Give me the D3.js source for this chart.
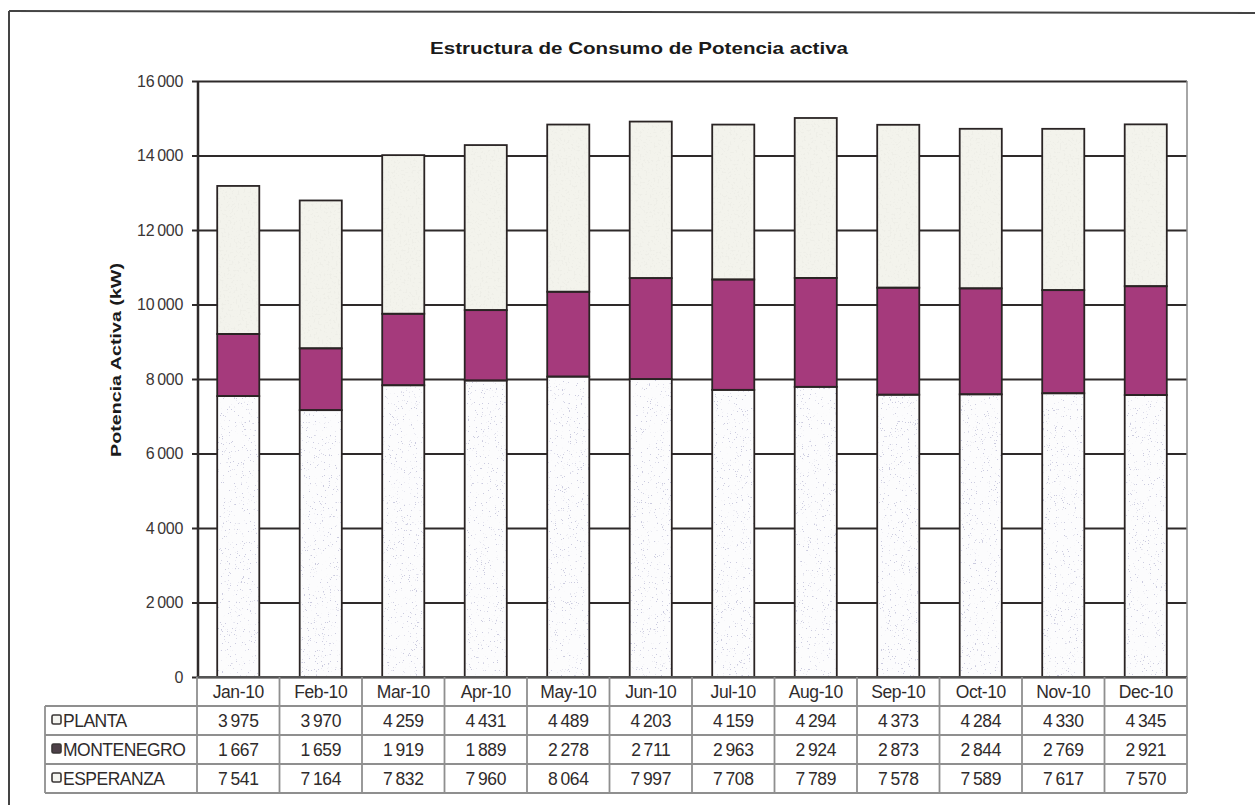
<!DOCTYPE html>
<html>
<head>
<meta charset="utf-8">
<script src="https://cdn.jsdelivr.net/npm/d3@7"></script>
<style>
  html, body { margin: 0; padding: 0; background: #fff; }
  svg { display: block; font-family: "Liberation Sans", Arial, sans-serif; }
</style>
</head>
<body>
<svg id="chart" width="1255" height="805"></svg>
<script>
// Monthly active power by supply point (kW)
const months = ["Jan-10","Feb-10","Mar-10","Apr-10","May-10","Jun-10","Jul-10","Aug-10","Sep-10","Oct-10","Nov-10","Dec-10"];
const planta      = [3975, 3970, 4259, 4431, 4489, 4203, 4159, 4294, 4373, 4284, 4330, 4345];
const montenegro  = [1667, 1659, 1919, 1889, 2278, 2711, 2963, 2924, 2873, 2844, 2769, 2921];
const esperanza   = [7541, 7164, 7832, 7960, 8064, 7997, 7708, 7789, 7578, 7589, 7617, 7570];
const seriesNames = ["PLANTA", "MONTENEGRO", "ESPERANZA"];
const yTicks = [0, 2000, 4000, 6000, 8000, 10000, 12000, 14000, 16000];

const svg = d3.select("#chart");
const plotL = 197, plotR = 1187, plotT = 81, plotB = 677;
const rowH = 29;

// Fill textures: sparse speckle for ESPERANZA, faint grain for PLANTA
const defs = svg.append("defs");
function noiseFilter(id, freq, seed, rgb, alphaRow) {
  const f = defs.append("filter").attr("id", id).attr("x", 0).attr("y", 0).attr("width", 1).attr("height", 1);
  f.append("feTurbulence").attr("type", "fractalNoise").attr("baseFrequency", freq).attr("numOctaves", 2).attr("seed", seed).attr("result", "noise");
  f.append("feColorMatrix").attr("in", "noise").attr("type", "matrix")
    .attr("values", `0 0 0 0 ${rgb[0]}  0 0 0 0 ${rgb[1]}  0 0 0 0 ${rgb[2]}  ${alphaRow}`).attr("result", "dots");
  f.append("feComposite").attr("in", "dots").attr("in2", "SourceGraphic").attr("operator", "in").attr("result", "dotsIn");
  const m = f.append("feMerge");
  m.append("feMergeNode").attr("in", "SourceGraphic");
  m.append("feMergeNode").attr("in", "dotsIn");
}
noiseFilter("speck", 0.85, 4, [0.6, 0.6, 0.74], "0 0 0 -16 5.0");
noiseFilter("grain", 0.5, 9, [0.86, 0.86, 0.8], "0 0 0 -10 4.2");

// Outer chart frame
svg.append("line").attr("x1", 9).attr("y1", 11).attr("x2", 1255).attr("y2", 13).attr("stroke", "#444").attr("stroke-width", 2);
svg.append("line").attr("x1", 9).attr("y1", 11).attr("x2", 9).attr("y2", 805).attr("stroke", "#444").attr("stroke-width", 2);

// Title
svg.append("text").attr("x", 639).attr("y", 54).attr("text-anchor", "middle")
  .attr("font-size", 17).attr("font-weight", "bold").attr("fill", "#1a1a1a")
  .attr("textLength", 418).attr("lengthAdjust", "spacingAndGlyphs")
  .text("Estructura de Consumo de Potencia activa");

const x = d3.scaleBand().domain(months).range([plotL, plotR]).paddingInner(0.49).paddingOuter(0.245);
const y = d3.scaleLinear().domain([0, 16000]).range([plotB, plotT]);
const fmt = v => d3.format(",")(v).replace(/,/g, "\u2009");

// Gridlines and y axis
const yAxis = d3.axisLeft(y).tickValues(yTicks).tickFormat(fmt).tickSize(-(plotR - plotL)).tickPadding(14);
const gy = svg.append("g").attr("transform", `translate(${plotL},0)`).call(yAxis);
gy.select(".domain").remove();
gy.selectAll(".tick line").attr("stroke", "#2e2a2a").attr("stroke-width", 2).attr("x1", -5);
gy.selectAll(".tick text").attr("font-size", 16).attr("fill", "#3a3636")
  .attr("font-family", "Liberation Sans, Arial, sans-serif").attr("letter-spacing", -0.3);

// Plot frame: axis on the left, thin grey on the right
svg.append("line").attr("x1", plotL + 1).attr("x2", plotL + 1).attr("y1", plotT).attr("y2", plotB).attr("stroke", "#2e2a2a").attr("stroke-width", 2.5);
svg.append("line").attr("x1", plotR).attr("x2", plotR).attr("y1", plotT).attr("y2", plotB).attr("stroke", "#888").attr("stroke-width", 1.5);

// Axis title
svg.append("text").attr("transform", `translate(121,${(plotT + plotB) / 2 - 19}) rotate(-90)`)
  .attr("text-anchor", "middle").attr("font-size", 15).attr("font-weight", "bold").attr("fill", "#1a1a1a")
  .attr("textLength", 194).attr("lengthAdjust", "spacingAndGlyphs")
  .text("Potencia Activa (kW)");

// Stacked bars
const rows = months.map((m, i) => ({ month: m, ESPERANZA: esperanza[i], MONTENEGRO: montenegro[i], PLANTA: planta[i] }));
const stack = d3.stack().keys(["ESPERANZA", "MONTENEGRO", "PLANTA"])(rows);
const fills = { ESPERANZA: "#fcfcfd", MONTENEGRO: "#a53a7c", PLANTA: "#f3f3ec" };
const filters = { ESPERANZA: "url(#speck)", MONTENEGRO: null, PLANTA: "url(#grain)" };

stack.forEach(layer => {
  svg.append("g").selectAll("rect").data(layer).join("rect")
    .attr("x", d => x(d.data.month))
    .attr("width", x.bandwidth())
    .attr("y", d => y(d[1]))
    .attr("height", d => y(d[0]) - y(d[1]))
    .attr("fill", fills[layer.key])
    .attr("filter", filters[layer.key]);
});
// Bar outlines over the stacked segments
stack.forEach(layer => {
  svg.append("g").selectAll("rect").data(layer).join("rect")
    .attr("x", d => x(d.data.month))
    .attr("width", x.bandwidth())
    .attr("y", d => y(d[1]))
    .attr("height", d => y(d[0]) - y(d[1]))
    .attr("fill", "none").attr("stroke", "#2a2424").attr("stroke-width", 1.8);
});

// Data table below the plot
const tbl = svg.append("g");
const step = x.step();
const colX = i => plotL + i * step;
const tableLeft = 45;
const lineCol = "#8f8f8f";
const txtCol = "#2f2b2b";
const tableFont = 17.5;

// header row
months.forEach((m, i) => {
  tbl.append("text").attr("x", colX(i) + step / 2).attr("y", plotB + 21)
    .attr("text-anchor", "middle").attr("font-size", tableFont).attr("fill", txtCol)
    .attr("letter-spacing", -0.4).text(m);
});
const dataRows = [planta, montenegro, esperanza];
dataRows.forEach((vals, r) => {
  const yy = plotB + rowH * (r + 1);
  vals.forEach((v, i) => {
    tbl.append("text").attr("x", colX(i) + step / 2).attr("y", yy + 21)
      .attr("text-anchor", "middle").attr("font-size", tableFont).attr("fill", txtCol)
      .attr("letter-spacing", -0.4).text(fmt(v));
  });
  // legend key + label
  tbl.append("rect").attr("x", tableLeft + 7).attr("y", yy + 9).attr("width", 9).attr("height", 9)
    .attr("rx", 1.5).attr("stroke", "#3a3636").attr("stroke-width", 1.6)
    .attr("fill", r === 1 ? "#4d4048" : "#f4f4f0");
  tbl.append("text").attr("x", tableLeft + 18).attr("y", yy + 21)
    .attr("font-size", tableFont).attr("fill", txtCol).attr("letter-spacing", -0.5).text(seriesNames[r]);
});

// table grid lines
const tableBottom = plotB + rowH * 4;
for (let r = 0; r <= 4; r++) {
  const yy = plotB + rowH * r;
  tbl.append("line").attr("x1", r === 0 ? plotL : tableLeft).attr("x2", plotR)
    .attr("y1", yy).attr("y2", yy).attr("stroke", r === 0 ? "#555" : lineCol).attr("stroke-width", 1.8);
}
for (let i = 0; i <= months.length; i++) {
  tbl.append("line").attr("x1", colX(i)).attr("x2", colX(i)).attr("y1", plotB).attr("y2", tableBottom)
    .attr("stroke", lineCol).attr("stroke-width", 1.8);
}
tbl.append("line").attr("x1", tableLeft).attr("x2", tableLeft).attr("y1", plotB + rowH).attr("y2", tableBottom)
  .attr("stroke", lineCol).attr("stroke-width", 1.8);
</script>
</body>
</html>
